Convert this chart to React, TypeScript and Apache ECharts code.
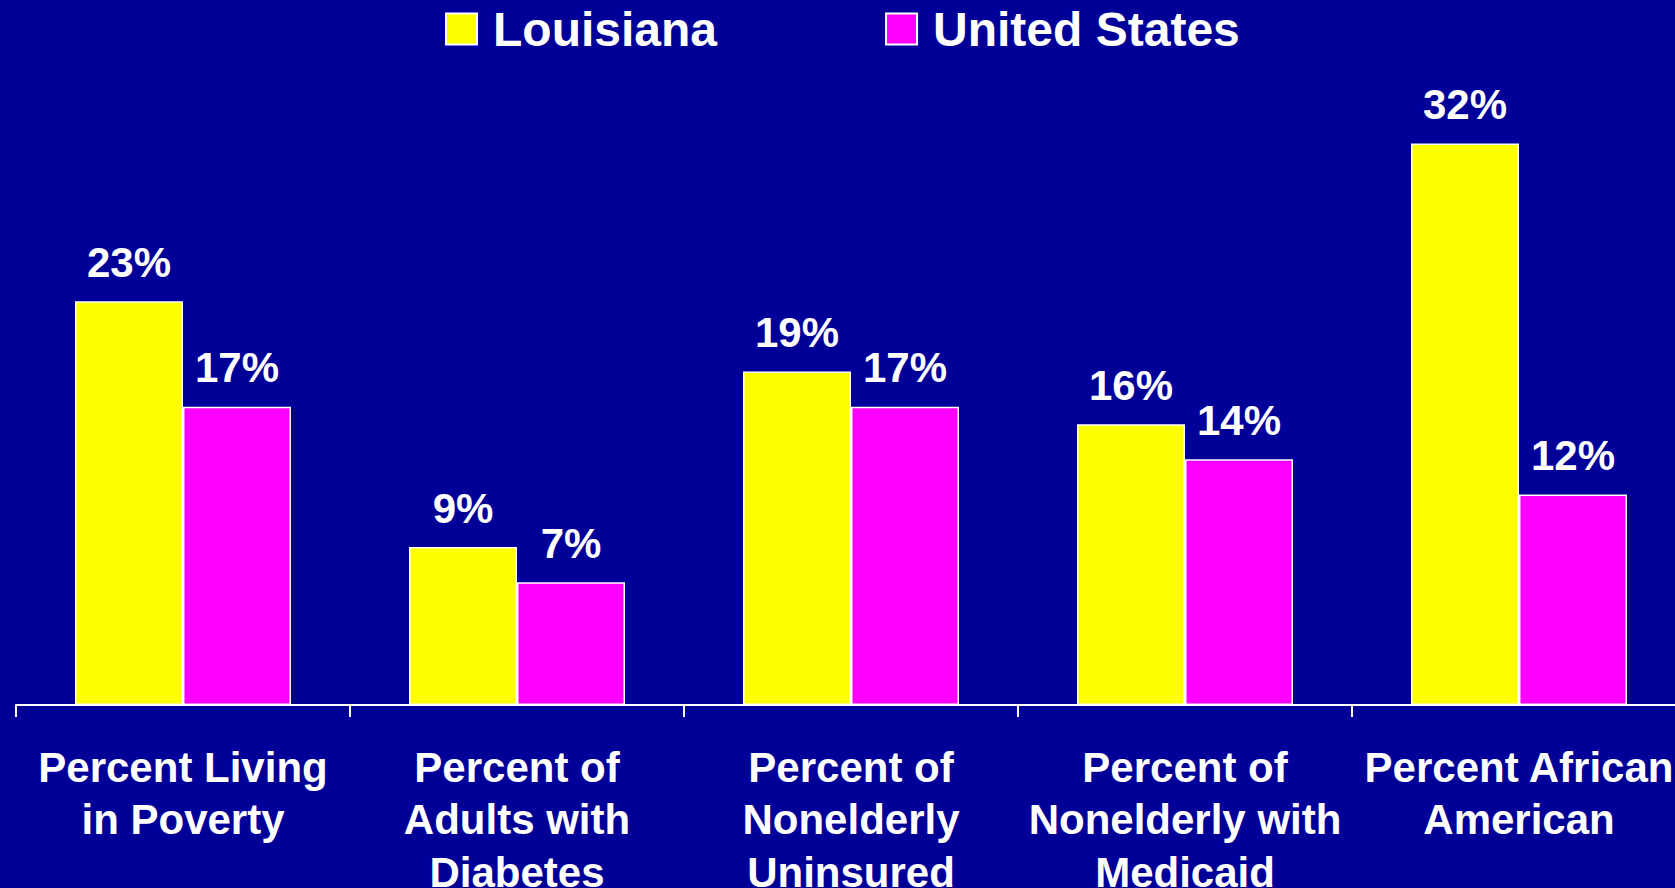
import React, { useEffect, useRef } from "react";
import * as echarts from "echarts";

const categories = [
  "Percent Living\nin Poverty",
  "Percent of\nAdults with\nDiabetes",
  "Percent of\nNonelderly\nUninsured",
  "Percent of\nNonelderly with\nMedicaid",
  "Percent African\nAmerican",
];
const louisianaValues = [23, 9, 19, 16, 32];
const usValues = [17, 7, 17, 14, 12];
const louisianaLabels = ["23%", "9%", "19%", "16%", "32%"];
const usLabels = ["17%", "7%", "17%", "14%", "12%"];
const seriesNames = ["Louisiana", "United States"];

const FONT = "'Liberation Sans', Arial, sans-serif";

export default function App() {
  const ref = useRef<HTMLDivElement>(null);
  useEffect(() => {
    if (!ref.current) return;
    const chart = echarts.init(ref.current, null, { renderer: "svg" });
    const labelStyle = {
      show: true,
      position: "top" as const,
      distance: 18,
      color: "#ffffff",
      fontSize: 42,
      fontWeight: "bold" as const,
      fontFamily: FONT,
    };
    chart.setOption({
      animation: false,
      backgroundColor: "#000099",
      legend: {
        left: 440,
        top: 0,
        itemWidth: 31,
        itemHeight: 31,
        itemGap: 168,
        icon: "rect",
        itemStyle: { borderColor: "#ffffff", borderWidth: 2 },
        textStyle: {
          color: "#ffffff",
          fontSize: 48,
          fontWeight: "bold",
          fontFamily: FONT,
          padding: [0, 0, 0, 11],
        },
        data: seriesNames,
      },
      grid: {
        left: 16,
        top: 3,
        width: 1670,
        height: 702,
        containLabel: false,
        outerBoundsMode: "none",
      },
      xAxis: {
        type: "category",
        data: categories,
        boundaryGap: true,
        axisLine: { show: true, lineStyle: { color: "#ffffff", width: 2 } },
        axisTick: { show: true, length: 12, lineStyle: { color: "#ffffff", width: 2 } },
        axisLabel: {
          interval: 0,
          color: "#ffffff",
          fontSize: 42,
          fontWeight: "bold",
          fontFamily: FONT,
          lineHeight: 52.5,
          margin: 36,
          align: "center",
        },
        splitLine: { show: false },
      },
      yAxis: {
        type: "value",
        min: 0,
        max: 40,
        show: false,
        splitLine: { show: false },
      },
      series: [
        {
          name: seriesNames[0],
          type: "bar",
          data: louisianaValues,
          barWidth: 108,
          barGap: "0%",
          itemStyle: { color: "#ffff00", borderColor: "#ffffff", borderWidth: 1.5 },
          label: { ...labelStyle, formatter: (p: any) => louisianaLabels[p.dataIndex] },
        },
        {
          name: seriesNames[1],
          type: "bar",
          data: usValues,
          barWidth: 108,
          barGap: "0%",
          itemStyle: { color: "#ff00ff", borderColor: "#ffffff", borderWidth: 1.5 },
          label: { ...labelStyle, formatter: (p: any) => usLabels[p.dataIndex] },
        },
      ],
    });
    return () => chart.dispose();
  }, []);
  return (
    <div
      ref={ref}
      style={{ position: "fixed", left: 0, top: 0, width: 1675, height: 888 }}
    />
  );
}
